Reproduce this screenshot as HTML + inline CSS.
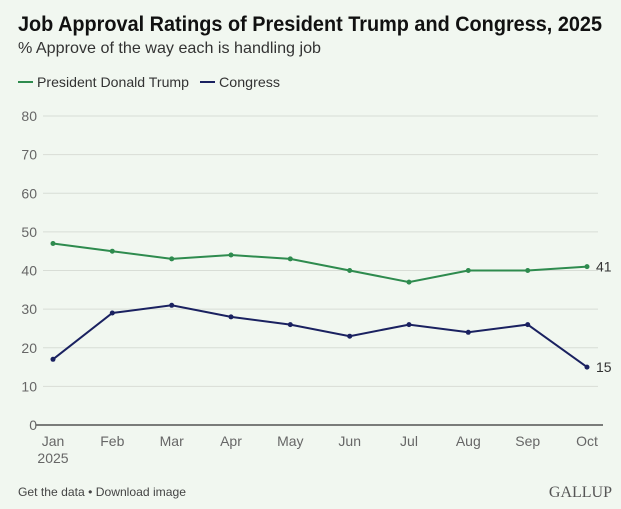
<!DOCTYPE html>
<html><head><meta charset="utf-8"><style>
body{margin:0;background:#f1f7f0;}
svg{display:block;font-family:"Liberation Sans",sans-serif;}
</style></head><body>
<svg width="621" height="509" viewBox="0 0 621 509">
<rect width="621" height="509" fill="#f1f7f0"/>
<text x="18" y="31" font-size="21" font-weight="bold" fill="#111" textLength="584" lengthAdjust="spacingAndGlyphs">Job Approval Ratings of President Trump and Congress, 2025</text>
<text x="18" y="53" font-size="16" fill="#333" textLength="303" lengthAdjust="spacingAndGlyphs">% Approve of the way each is handling job</text>
<line x1="18" y1="82" x2="33" y2="82" stroke="#2e8b4e" stroke-width="2"/>
<text x="37" y="87" font-size="14" fill="#333" textLength="152" lengthAdjust="spacingAndGlyphs">President Donald Trump</text>
<line x1="200" y1="82" x2="215" y2="82" stroke="#1a2160" stroke-width="2"/>
<text x="219" y="87" font-size="14" fill="#333" textLength="61" lengthAdjust="spacingAndGlyphs">Congress</text>
<g stroke="#d8ddd6" stroke-width="1">
<line x1="43" x2="598" y1="116" y2="116"/><line x1="43" x2="598" y1="154.6" y2="154.6"/>
<line x1="43" x2="598" y1="193.3" y2="193.3"/><line x1="43" x2="598" y1="231.9" y2="231.9"/>
<line x1="43" x2="598" y1="270.5" y2="270.5"/><line x1="43" x2="598" y1="309.1" y2="309.1"/>
<line x1="43" x2="598" y1="347.8" y2="347.8"/><line x1="43" x2="598" y1="386.4" y2="386.4"/>
</g>
<line x1="36" x2="603" y1="425" y2="425" stroke="#333" stroke-width="1.2"/>
<g font-size="14" fill="#666" text-anchor="end">
<text x="37" y="121">80</text><text x="37" y="159.6">70</text><text x="37" y="198.3">60</text>
<text x="37" y="236.9">50</text><text x="37" y="275.5">40</text><text x="37" y="314.1">30</text>
<text x="37" y="352.8">20</text><text x="37" y="391.4">10</text><text x="37" y="430">0</text>
</g>
<g font-size="14" fill="#666" text-anchor="middle">
<text x="53" y="446">Jan</text><text x="53" y="463">2025</text>
<text x="112.3" y="446">Feb</text><text x="171.7" y="446">Mar</text><text x="231" y="446">Apr</text>
<text x="290.3" y="446">May</text><text x="349.7" y="446">Jun</text><text x="409" y="446">Jul</text>
<text x="468.3" y="446">Aug</text><text x="527.7" y="446">Sep</text><text x="587" y="446">Oct</text>
</g>
<polyline fill="none" stroke="#2e8b4e" stroke-width="2" points="53,243.5 112.3,251.2 171.7,258.9 231,255 290.3,258.9 349.7,270.5 409,282.1 468.3,270.5 527.7,270.5 587,266.6"/>
<g fill="#2e8b4e"><circle cx="53" cy="243.5" r="2.5"/><circle cx="112.3" cy="251.2" r="2.5"/><circle cx="171.7" cy="258.9" r="2.5"/><circle cx="231" cy="255" r="2.5"/><circle cx="290.3" cy="258.9" r="2.5"/><circle cx="349.7" cy="270.5" r="2.5"/><circle cx="409" cy="282.1" r="2.5"/><circle cx="468.3" cy="270.5" r="2.5"/><circle cx="527.7" cy="270.5" r="2.5"/><circle cx="587" cy="266.6" r="2.5"/></g>
<polyline fill="none" stroke="#1a2160" stroke-width="2" points="53,359.3 112.3,313 171.7,305.3 231,316.9 290.3,324.6 349.7,336.2 409,324.6 468.3,332.3 527.7,324.6 587,367.1"/>
<g fill="#1a2160"><circle cx="53" cy="359.3" r="2.5"/><circle cx="112.3" cy="313" r="2.5"/><circle cx="171.7" cy="305.3" r="2.5"/><circle cx="231" cy="316.9" r="2.5"/><circle cx="290.3" cy="324.6" r="2.5"/><circle cx="349.7" cy="336.2" r="2.5"/><circle cx="409" cy="324.6" r="2.5"/><circle cx="468.3" cy="332.3" r="2.5"/><circle cx="527.7" cy="324.6" r="2.5"/><circle cx="587" cy="367.1" r="2.5"/></g>
<text x="596" y="271.5" font-size="14" fill="#333">41</text>
<text x="596" y="372" font-size="14" fill="#333">15</text>
<text x="18" y="496" font-size="12" fill="#444" textLength="168" lengthAdjust="spacingAndGlyphs">Get the data • Download image</text>
<text x="612" y="497" font-size="16" fill="#555" text-anchor="end" font-family="Liberation Serif,serif">GALLUP</text>
</svg>
</body></html>
